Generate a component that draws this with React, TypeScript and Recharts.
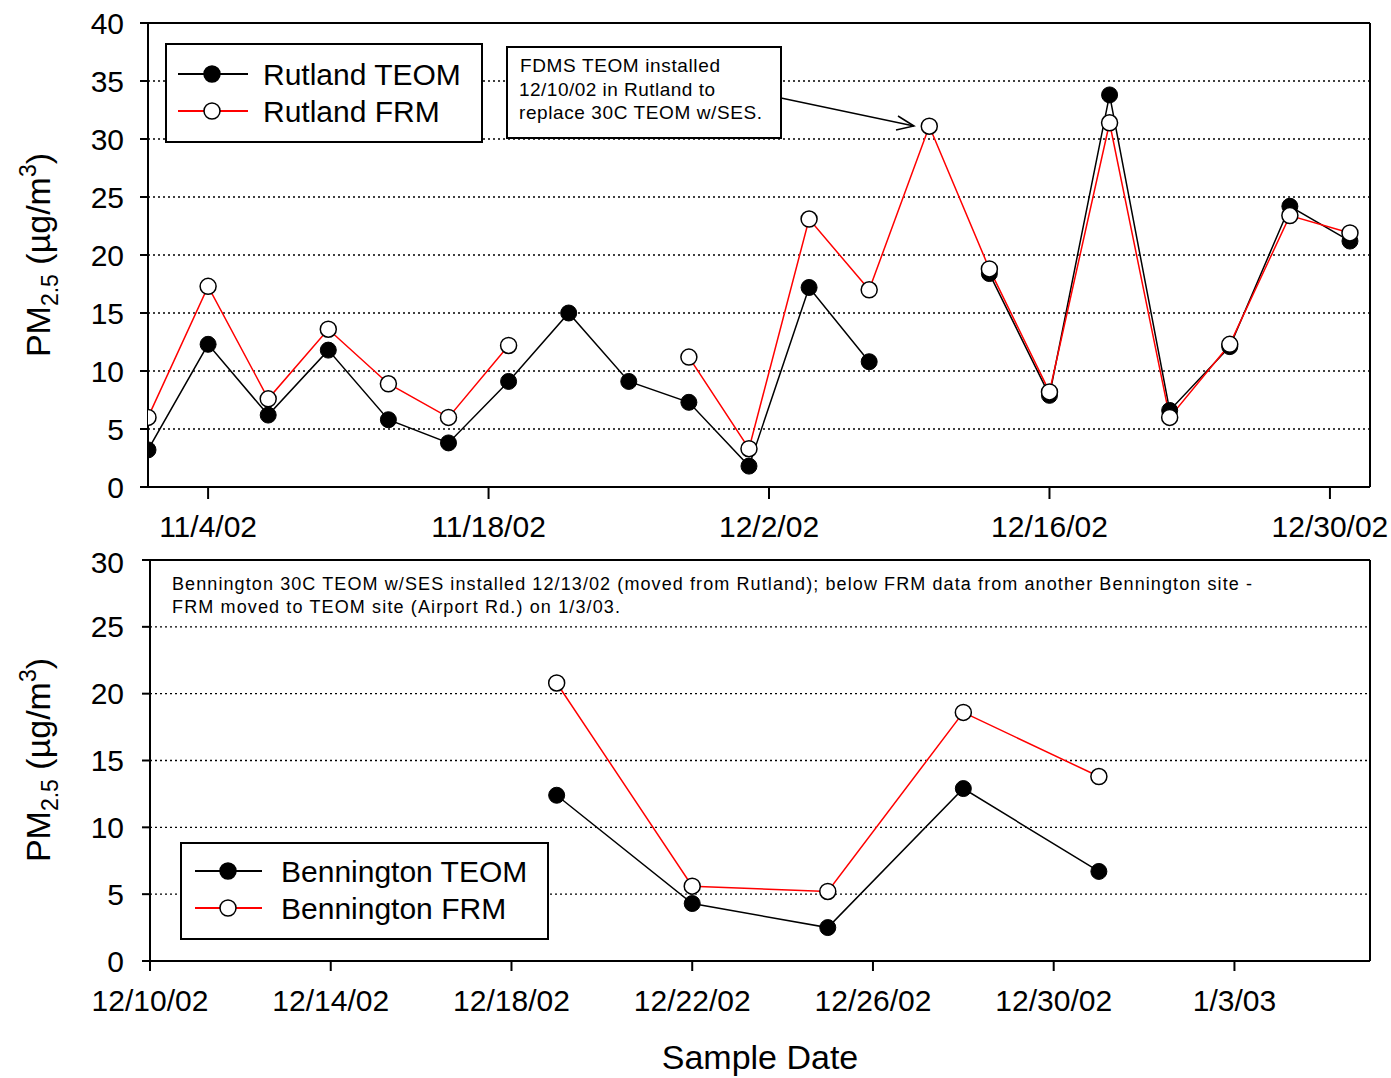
import React from 'react';
import { LineChart, Line, XAxis, YAxis, CartesianGrid, ReferenceLine, Legend } from 'recharts';

const FONT = '"Liberation Sans", Arial, Helvetica, sans-serif';

// ---------- Rutland (top panel) ----------
const rutlandStart = '11/1/02';
const rutlandEnd = '1/1/03';
const rutlandDates = ['11/1/02', '11/4/02', '11/7/02', '11/10/02', '11/13/02', '11/16/02', '11/19/02', '11/22/02', '11/25/02', '11/28/02', '12/1/02', '12/4/02', '12/7/02', '12/10/02', '12/13/02', '12/16/02', '12/19/02', '12/22/02', '12/25/02', '12/28/02', '12/31/02'];
const rutlandTeom = [3.2, 12.3, 6.2, 11.8, 5.8, 3.8, 9.1, 15.0, 9.1, 7.3, 1.8, 17.2, 10.8, null, 18.4, 7.9, 33.8, 6.6, 12.1, 24.2, 21.2];
const rutlandFrm = [6.0, 17.3, 7.6, 13.6, 8.9, 6.0, 12.2, null, null, 11.2, 3.3, 23.1, 17.0, 31.1, 18.8, 8.2, 31.4, 6.0, 12.3, 23.4, 21.9];
const rutlandTickLabels = ['11/4/02', '11/18/02', '12/2/02', '12/16/02', '12/30/02'];
const rutlandYTicks = [0, 5, 10, 15, 20, 25, 30, 35, 40];

// ---------- Bennington (bottom panel) ----------
const benStart = '12/10/02';
const benEnd = '1/6/03';
const benDates = ['12/19/02', '12/22/02', '12/25/02', '12/28/02', '12/31/02'];
const benTeom = [12.4, 4.3, 2.5, 12.9, 6.7];
const benFrm = [20.8, 5.6, 5.2, 18.6, 13.8];
const benTickLabels = ['12/10/02', '12/14/02', '12/18/02', '12/22/02', '12/26/02', '12/30/02', '1/3/03'];
const benYTicks = [0, 5, 10, 15, 20, 25, 30];

const seriesNamesTop = ['Rutland TEOM', 'Rutland FRM'];
const seriesNamesBottom = ['Bennington TEOM', 'Bennington FRM'];

const topNote = ['FDMS TEOM installed', '12/10/02 in Rutland to', 'replace 30C TEOM w/SES.'];
const bottomNote = [
  'Bennington 30C TEOM w/SES installed 12/13/02 (moved from Rutland); below FRM data from another Bennington site -',
  'FRM moved to TEOM site (Airport Rd.) on 1/3/03.',
];

const DAY = 86400000;
const parseDate = (s: string) => {
  const [m, d, y] = s.split('/').map(Number);
  return Date.UTC(2000 + y, m - 1, d);
};
const dayOf = (s: string, start: string) => Math.round((parseDate(s) - parseDate(start)) / DAY);
const fmtDay = (start: string) => (v: number) => {
  const dt = new Date(parseDate(start) + v * DAY);
  return `${dt.getUTCMonth() + 1}/${dt.getUTCDate()}/${String(dt.getUTCFullYear() % 100).padStart(2, '0')}`;
};

const rutlandData = rutlandDates.map((d, i) => ({ day: dayOf(d, rutlandStart), teom: rutlandTeom[i], frm: rutlandFrm[i] }));
const benData = benDates.map((d, i) => ({ day: dayOf(d, benStart), teom: benTeom[i], frm: benFrm[i] }));

const seriesColors = ['#000', '#ff0000'];
const markerFills = ['#000', '#fff'];

const YLab = ({ cx, cy }: any) => (
  <text x={cx} y={cy} transform={`rotate(-90 ${cx} ${cy})`} textAnchor="middle" fontSize={34} fontFamily={FONT} fill="#000">
    PM
    <tspan fontSize={23} dy={8}>2.5</tspan>
    <tspan dy={-8}> (µg/m</tspan>
    <tspan fontSize={23} dy={-14}>3</tspan>
    <tspan dy={14}>)</tspan>
  </text>
);

const makeLegend = (names: string[], w: number, h: number, rows: number[], lineX: [number, number], markX: number, textX: number) =>
  (props: any) => {
    const payload = props.payload || [];
    const items = names.map((n, i) => {
      const p = payload.find((q: any) => q.value === n);
      return { value: n, color: p && p.color ? p.color : seriesColors[i] };
    });
    return (
      <div style={{ width: w, height: h, border: '2px solid #000', background: '#fff', boxSizing: 'border-box' }}>
        <svg width={w - 4} height={h - 4} style={{ display: 'block' }}>
          {items.map((p: any, i: number) => (
            <g key={i}>
              <line x1={lineX[0]} x2={lineX[1]} y1={rows[i]} y2={rows[i]} stroke={p.color} strokeWidth={2} />
              <circle cx={markX} cy={rows[i]} r={8} fill={markerFills[i]} stroke="#000" strokeWidth={1.5} />
              <text x={textX} y={rows[i]} dy="0.36em" fontSize={30} fontFamily={FONT} fill="#000">{p.value}</text>
            </g>
          ))}
        </svg>
      </div>
    );
  };

const axisLine = { stroke: '#000', strokeWidth: 2 };
const tickStyle = { fontSize: 30, fill: '#000', fontFamily: FONT };
const teomDot = { r: 8, fill: '#000', stroke: '#000', strokeWidth: 1 };
const frmDot = { r: 8, fill: '#fff', stroke: '#000', strokeWidth: 1.5 };

export default function App() {
  const rEndDay = dayOf(rutlandEnd, rutlandStart);
  const bEndDay = dayOf(benEnd, benStart);
  return (
    <div style={{ position: 'absolute', left: 0, top: 0, width: 1391, height: 1078, background: '#fff', fontFamily: FONT }}>
      <div style={{ position: 'absolute', left: 0, top: 0 }}>
        <LineChart width={1391} height={545} data={rutlandData} margin={{ top: 23, right: 21, bottom: 0, left: 0 }}>
          <CartesianGrid vertical={false} stroke="#000" strokeDasharray="2 3" strokeWidth={1.3} />
          <XAxis
            dataKey="day"
            type="number"
            domain={[0, rEndDay]}
            ticks={rutlandTickLabels.map((t) => dayOf(t, rutlandStart))}
            tickFormatter={fmtDay(rutlandStart)}
            height={58}
            tickSize={12}
            tickMargin={17}
            axisLine={axisLine}
            tickLine={axisLine}
            tick={tickStyle}
            allowDataOverflow
          />
          <YAxis
            type="number"
            domain={[0, 40]}
            ticks={rutlandYTicks}
            width={148}
            tickSize={8}
            tickMargin={16}
            axisLine={axisLine}
            tickLine={axisLine}
            tick={tickStyle}
            label={<YLab cx={50} cy={255} />}
          />
          <ReferenceLine y={40} stroke="#000" strokeWidth={2} />
          <ReferenceLine x={rEndDay} stroke="#000" strokeWidth={2} />
          <Legend
            layout="vertical"
            align="center"
            verticalAlign="middle"
            wrapperStyle={{ left: 165, top: 43, width: 318, height: 100 }}
            content={makeLegend(seriesNamesTop, 318, 100, [29, 66], [11, 81], 45, 96)}
          />
          <Line dataKey="teom" name={seriesNamesTop[0]} stroke={seriesColors[0]} strokeWidth={1.5} dot={teomDot} activeDot={false} isAnimationActive={false} />
          <Line dataKey="frm" name={seriesNamesTop[1]} stroke={seriesColors[1]} strokeWidth={1.5} dot={frmDot} activeDot={false} isAnimationActive={false} />
        </LineChart>
      </div>

      <div style={{ position: 'absolute', left: 0, top: 545 }}>
        <LineChart width={1391} height={533} data={benData} margin={{ top: 15, right: 21, bottom: 0, left: 0 }}>
          <CartesianGrid vertical={false} stroke="#000" strokeDasharray="2 3" strokeWidth={1.3} />
          <XAxis
            dataKey="day"
            type="number"
            domain={[0, bEndDay]}
            ticks={benTickLabels.map((t) => dayOf(t, benStart))}
            tickFormatter={fmtDay(benStart)}
            height={117}
            tickSize={10}
            tickMargin={19}
            axisLine={axisLine}
            tickLine={axisLine}
            tick={tickStyle}
            allowDataOverflow
            label={{ value: 'Sample Date', position: 'insideBottom', offset: 9, fontSize: 34, fill: '#000', fontFamily: FONT }}
          />
          <YAxis
            type="number"
            domain={[0, 30]}
            ticks={benYTicks}
            width={150}
            tickSize={8}
            tickMargin={18}
            axisLine={axisLine}
            tickLine={axisLine}
            tick={tickStyle}
            label={<YLab cx={50} cy={215} />}
          />
          <ReferenceLine y={30} stroke="#000" strokeWidth={2} />
          <ReferenceLine x={bEndDay} stroke="#000" strokeWidth={2} />
          <Legend
            layout="vertical"
            align="center"
            verticalAlign="middle"
            wrapperStyle={{ left: 180, top: 297, width: 369, height: 98 }}
            content={makeLegend(seriesNamesBottom, 369, 98, [27, 64], [13, 80], 46, 99)}
          />
          <Line dataKey="teom" name={seriesNamesBottom[0]} stroke={seriesColors[0]} strokeWidth={1.5} dot={teomDot} activeDot={false} isAnimationActive={false} />
          <Line dataKey="frm" name={seriesNamesBottom[1]} stroke={seriesColors[1]} strokeWidth={1.5} dot={frmDot} activeDot={false} isAnimationActive={false} />
        </LineChart>
      </div>

      <svg width={1391} height={1078} style={{ position: 'absolute', left: 0, top: 0, pointerEvents: 'none' }}>
        <rect x={507} y={47} width={274} height={91} fill="#fff" stroke="#000" strokeWidth={2} />
        <text x={520} y={72} fontSize={19} fontFamily={FONT} fill="#000" textLength={200} lengthAdjust="spacing">{topNote[0]}</text>
        <text x={519} y={96} fontSize={19} fontFamily={FONT} fill="#000" textLength={196} lengthAdjust="spacing">{topNote[1]}</text>
        <text x={519} y={119} fontSize={19} fontFamily={FONT} fill="#000" textLength={243} lengthAdjust="spacing">{topNote[2]}</text>
        <line x1={781} y1={98} x2={914} y2={126} stroke="#000" strokeWidth={1.5} />
        <polyline points="898,116 914,126 896,130" fill="none" stroke="#000" strokeWidth={1.5} />
        <text x={172} y={590} fontSize={18} fontFamily={FONT} fill="#000" textLength={1080} lengthAdjust="spacing">{bottomNote[0]}</text>
        <text x={172} y={613} fontSize={18} fontFamily={FONT} fill="#000" textLength={448} lengthAdjust="spacing">{bottomNote[1]}</text>
      </svg>
    </div>
  );
}
